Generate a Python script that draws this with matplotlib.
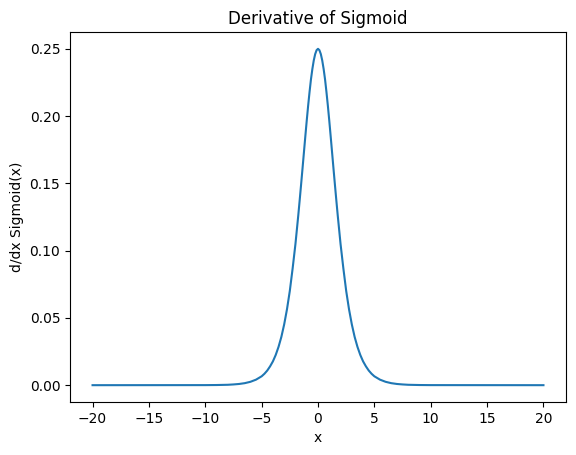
import matplotlib
matplotlib.use("Agg")
import matplotlib.pyplot as plt

# values
xs = [-20, -10, -9, -8, -7.5, -7, -6.5, -6, -5.5, -5, -4.75, -4.5, -4.25, -4, -3.75,
      -3.5, -3.25, -3, -2.75, -2.5, -2.25,
      -2, -1.75, -1.625, -1.5, -1.375, -1.25, -1.125, -1, -0.875, -0.75, -0.625,
      -0.5, -0.375, -0.25, -0.125, 0,
      0.125, 0.25, 0.375, 0.5, 0.625, 0.75, 0.875, 1, 1.125, 1.25, 1.375, 1.5,
      1.625, 1.75, 2, 2.25, 2.5, 2.75, 3, 3.25, 3.5, 3.75,
      4, 4.25, 4.5, 4.75, 5, 5.5, 6, 6.5, 7, 7.5, 8, 9, 10, 20]
ys = [0.0, 0.00005, 0.00012, 0.0003, 0.00055, 0.0009, 0.0015, 0.0025, 0.0041,
      0.0066, 0.0085, 0.0109, 0.0140, 0.0177, 0.0225,
      0.0285, 0.0359, 0.0452, 0.0565, 0.0701, 0.0868,
      0.1050, 0.1262, 0.1375, 0.1491, 0.1609, 0.1729, 0.1849, 0.1966, 0.2077,
      0.2179, 0.2273, 0.2350, 0.2414, 0.2461, 0.2490, 0.25,
      0.2490, 0.2461, 0.2414, 0.2350, 0.2273, 0.2179, 0.2077, 0.1966, 0.1849,
      0.1729, 0.1609, 0.1491, 0.1375, 0.1262, 0.1050, 0.0868,
      0.0701, 0.0565, 0.0452, 0.0359, 0.0285, 0.0225,
      0.0177, 0.0140, 0.0109, 0.0085, 0.0066, 0.0041, 0.0025, 0.0015, 0.0009,
      0.00055, 0.0003, 0.00012, 0.00005, 0.0]

fig = plt.figure(figsize=(5.76, 4.55), dpi=100)
ax = fig.add_axes([70 / 576, 53 / 455, 496 / 576, 370 / 455])
ax.plot(xs, ys)
ax.set_title('Derivative of Sigmoid')
ax.set_xlabel('x')
ax.set_ylabel('d/dx Sigmoid(x)')
fig.savefig('out.png', dpi=100)
